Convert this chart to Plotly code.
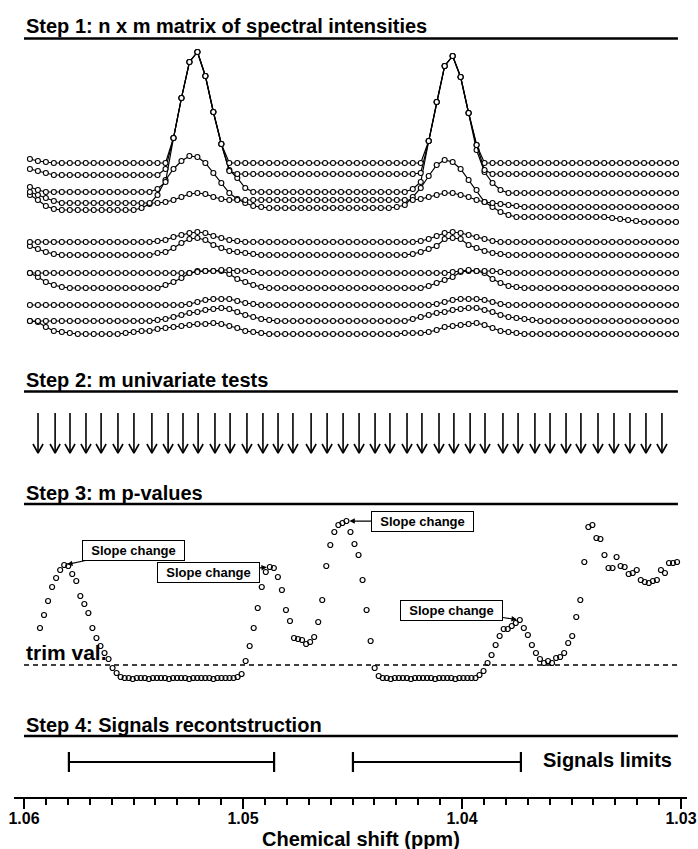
import numpy as np
import plotly.graph_objects as go

# ---------------- DATA ----------------
# Step 1: spectra (chemical-shift grid and intensities relative to each spectrum's baseline)
spec_ppm = np.linspace(1.05973, 1.03023, 82)

spec_u1 = [4,2,1,0,0,0,0,0,0,0,
           0,0,0,0,0,0,0,0,25,65,
           101,111,87,51,19,0,0,0,0,0,
           0,0,0,0,0,0,0,0,0,0,
           0,0,0,0,0,0,0,0,0,0,
           22,61,97,107,86,50,18,0,0,0,
           0,0,0,0,0,0,0,0,0,0,
           0,0,0,0,0,0,0,0,0,0,
           0,0]
spec_u2 = [6,4,2,0,0,0,0,0,0,0,
           0,0,0,0,0,0,0,6,37,77,
           113,123,99,63,31,4,1,1,1,1,
           1,1,1,1,1,1,1,1,1,1,
           1,1,1,1,1,1,1,1,1,2,
           34,73,109,119,98,62,30,5,1,1,
           1,1,1,1,1,1,1,1,1,1,
           1,1,1,1,1,1,1,1,1,1,
           1,1]
spec_u3 = [5,2,0,0,0,0,0,0,0,0,
           0,0,0,0,0,0,3,10,54,94,
           130,140,116,80,48,22,14,4,0,0,
           0,0,0,0,0,0,0,0,0,0,
           0,0,0,0,0,0,0,0,3,10,
           51,90,126,136,115,79,42,20,9,2,
           -1,-1,-1,-1,-1,-1,-1,-1,-1,-1,
           -1,-1,-1,-1,-1,-1,-1,-1,-1,-1,
           -1,-1]
spec_u4 = [11,8,5,2,0,0,0,0,0,0,
           0,0,0,0,0,0,0,1,3,6,
           9,10,9,6,4,3,3,3,3,3,
           3,3,3,3,3,3,3,3,3,3,
           3,3,3,3,3,3,3,3,3,4,
           6,8,10,10,8,6,3,1,0,-1,
           -2,-3,-4,-4,-4,-4,-4,-4,-4,-4,
           -4,-4,-4,-4,-4,-4,-4,-4,-4,-4,
           -4,-4]
spec_u5 = [15,10,4,1,0,0,0,0,0,0,
           0,0,0,0,2,6,15,30,41,49,
           54,53,47,37,27,17,11,7,4,3,
           2,2,2,2,2,2,2,2,2,2,
           2,2,2,2,2,2,3,5,13,22,
           34,45,50,48,41,30,20,8,3,-2,
           -5,-7,-7,-7,-7,-7,-7,-7,-7,-7,
           -7,-7,-7,-8,-9,-10,-11,-12,-12,-12,
           -12,-12]
spec_l1 = [0,0,0,0,0,0,0,0,0,0,
           0,0,0,0,0,0,1,2,5,7,
           9,10,9,6,4,2,1,0,0,0,
           0,0,0,0,0,0,0,0,0,0,
           0,0,0,0,0,0,0,0,0,1,
           3,6,9,10,9,7,5,3,1,0,
           0,0,0,0,0,0,0,0,0,0,
           0,0,0,0,0,0,0,0,0,0,
           0,0]
spec_l2 = [9,6,3,1,0,0,0,0,0,0,
           0,0,0,0,0,0,2,3,7,12,
           16,17,15,10,7,4,3,2,1,0,
           0,0,0,0,0,0,0,0,0,0,
           0,0,0,0,0,0,0,0,1,3,
           6,9,16,17,16,10,7,4,2,1,
           0,0,0,0,0,0,0,0,0,0,
           0,0,0,0,0,0,0,0,0,0,
           0,0]
spec_l3 = [0,0,0,0,0,0,0,0,0,0,
           0,0,0,0,0,0,0,0,0,0,
           0,1,2,2,3,3,2,2,1,0,
           0,0,0,0,0,0,0,0,0,0,
           0,0,0,0,0,0,0,0,0,0,
           0,0,0,1,2,3,2,2,2,1,
           0,0,0,0,0,0,0,0,0,0,
           0,0,0,0,0,0,0,0,0,0,
           0,0]
spec_l4 = [15,11,6,3,1,0,0,0,0,0,
           0,0,0,0,0,0,0,3,6,10,
           15,17,17,17,17,14,9,6,3,1,
           0,0,0,0,0,0,0,0,0,0,
           0,0,0,0,0,0,0,0,0,0,
           2,5,8,11,16,17,17,15,9,5,
           2,1,0,0,0,0,0,0,0,0,
           0,0,0,0,0,0,0,0,0,0,
           0,0]
spec_l5 = [0,0,0,0,0,0,0,0,0,0,
           0,0,0,0,0,0,0,0,0,0,
           1,3,5,6,6,6,4,2,1,0,
           0,0,0,0,0,0,0,0,0,0,
           0,0,0,0,0,0,0,0,0,0,
           0,1,3,5,6,6,6,5,3,1,
           0,0,0,0,0,0,0,0,0,0,
           0,0,0,0,0,0,0,0,0,0,
           0,0]
spec_l6 = [0,0,0,0,0,0,0,0,0,0,
           0,0,0,0,0,0,1,2,4,6,
           8,9,11,12,13,12,9,6,4,2,
           1,0,0,0,0,0,0,0,0,0,
           0,0,0,0,0,0,0,0,2,4,
           6,8,9,11,12,13,13,11,9,6,
           4,3,2,1,0,0,0,0,0,0,
           0,0,0,0,0,0,0,0,0,0,
           0,0]
spec_l7 = [13,12,7,3,2,1,0,0,0,0,
           0,0,1,2,3,3,5,6,7,8,
           9,10,10,11,10,8,6,3,2,1,
           0,0,0,0,0,0,0,0,0,0,
           0,0,0,0,0,0,0,1,1,1,
           2,4,7,8,9,10,11,9,6,3,
           2,1,0,0,0,0,0,0,0,0,
           0,0,0,0,0,0,0,0,0,0,
           0,0]

# Step 2: positions of the univariate tests (ppm)
test_ppm = [1.05936, 1.05858, 1.05790, 1.05717, 1.05648, 1.05571, 1.05498, 1.05416,
            1.05342, 1.05274, 1.05205, 1.05128, 1.05059, 1.04982, 1.04909, 1.04840,
            1.04772, 1.04689, 1.04616, 1.04543, 1.04470, 1.04397, 1.04329, 1.04251,
            1.04183, 1.04105, 1.04037, 1.03963, 1.03895, 1.03813, 1.03744, 1.03667,
            1.03598, 1.03525, 1.03457, 1.03379, 1.03306, 1.03233, 1.03160, 1.03087]

# Step 3: p-value scores on a chemical-shift grid
pval_ppm = np.linspace(1.05927, 1.03018, 159)
pval_score = [62,75,89,103,112,120,125,124,116,109,94,86,77,62,52,44,37,31,22,17,13,
              12,12,11,12,12,12,11,12,12,12,12,11,12,12,12,12,11,12,12,12,12,12,11,12,12,12,12,12,
              13,16,29,44,62,82,103,118,123,122,113,100,80,69,52,51,50,46,48,53,68,90,124,145,158,165,167,
              169,158,146,135,110,80,49,22,14,
              12,12,11,12,12,12,12,11,12,12,12,12,12,11,12,12,12,12,11,12,12,12,12,12,
              15,19,27,35,45,54,61,61,64,67,70,62,55,45,37,31,27,29,27,32,
              33,37,47,54,73,90,128,163,165,152,151,135,122,122,133,124,123,116,117,120,
              110,108,107,109,110,120,117,127,127,128]
trim_value = 25
slope_change_idx = [6, 57, 76, 119]

# Step 4: reconstructed signal limits (ppm)
signal_start = [1.05795, 1.04498]
signal_end = [1.04858, 1.03731]

x_tick_vals = [1.06, 1.05, 1.04, 1.03]
x_tick_text = ["1.06", "1.05", "1.04", "1.03"]

step_titles = ["Step 1: n x m matrix of spectral intensities",
               "Step 2: m univariate tests",
               "Step 3: m p-values",
               "Step 4: Signals recontstruction"]

# ---------------- LAYOUT / STYLE ----------------
FONT = "Liberation Sans, Arial, Helvetica, sans-serif"
W, H = 698, 849
ML, MR, MT, MB = 14, 11, 0, 51
PLOT_H = H - MT - MB


def pf(p):
    """window pixel row -> paper fraction"""
    return (PLOT_H - p) / PLOT_H


STACK_OFFSETS = [182, 170, 153, 142, 135, 103, 90, 72, 57, 40, 24, 11]
HEADER_Y = [26, 379.5, 492.5, 724.5]
RULE_Y = [38.5, 391.5, 504, 736]
RULE_X = (1.06, 1.03014)
ARROW_TOP, ARROW_TIP, HEAD_BASE, HEAD_HW = 47, 7, 16, 0.00023
SIGNAL_Y = 18

spectra = [spec_u1, spec_u2, spec_u3, spec_u4, spec_u5,
           spec_l1, spec_l2, spec_l3, spec_l4, spec_l5, spec_l6, spec_l7]

fig = go.Figure()

for vals, off in reversed(list(zip(spectra, STACK_OFFSETS))):
    fig.add_trace(go.Scatter(
        x=spec_ppm, y=np.array(vals) + off, mode="lines+markers", yaxis="y",
        line=dict(color="black", width=1.2),
        marker=dict(symbol="circle", size=5, color="white",
                    line=dict(color="black", width=1.1)),
        showlegend=False, hoverinfo="skip"))

ax_x, ax_y = [], []
for t in test_ppm:
    ax_x += [t, t, None, t + HEAD_HW, t, t - HEAD_HW, None]
    ax_y += [ARROW_TOP, ARROW_TIP, None, HEAD_BASE, ARROW_TIP, HEAD_BASE, None]
fig.add_trace(go.Scatter(x=ax_x, y=ax_y, mode="lines", yaxis="y2",
                         line=dict(color="black", width=1.6),
                         showlegend=False, hoverinfo="skip"))

fig.add_trace(go.Scatter(
    x=pval_ppm, y=pval_score, mode="markers", yaxis="y3",
    marker=dict(symbol="circle-open", size=5, color="black", line=dict(width=1.2)),
    showlegend=False, hoverinfo="skip"))

centers = [(s + e) / 2 for s, e in zip(signal_start, signal_end)]
halfw = [abs(s - e) / 2 for s, e in zip(signal_start, signal_end)]
fig.add_trace(go.Scatter(
    x=centers, y=[SIGNAL_Y] * len(centers), mode="markers", yaxis="y4",
    marker=dict(size=2, color="rgba(0,0,0,0)"),
    error_x=dict(type="data", symmetric=True, array=halfw, color="black",
                 thickness=2.2, width=10),
    showlegend=False, hoverinfo="skip"))

shapes = []
for ry in RULE_Y:
    shapes.append(dict(type="line", xref="x", yref="paper", x0=RULE_X[0], x1=RULE_X[1],
                       y0=pf(ry), y1=pf(ry), line=dict(color="black", width=2.5)))
shapes.append(dict(type="line", xref="x", yref="y3", x0=RULE_X[0], x1=RULE_X[1],
                   y0=trim_value, y1=trim_value,
                   line=dict(color="black", width=1.6, dash="5px,4px")))

annotations = []
for txt, hy in zip(step_titles, HEADER_Y):
    annotations.append(dict(text=f"<b>{txt}</b>", xref="x", x=1.06, xanchor="left",
                            yref="paper", y=pf(hy), yanchor="middle", showarrow=False,
                            font=dict(family=FONT, size=20, color="black")))
annotations.append(dict(text="<b>trim val.</b>", xref="x", x=1.06, xanchor="left",
                        yref="paper", y=pf(652), yanchor="middle", showarrow=False,
                        font=dict(family=FONT, size=21, color="black")))
annotations.append(dict(text="<b>Signals limits</b>", xref="x", x=1.03639, xanchor="left",
                        yref="paper", y=pf(760), yanchor="middle", showarrow=False,
                        font=dict(family=FONT, size=20, color="black")))
annotations.append(dict(text="<b>Chemical shift (ppm)</b>", xref="paper",
                        x=(361 - ML) / (W - ML - MR), xanchor="center",
                        yref="paper", y=pf(839), yanchor="middle", showarrow=False,
                        font=dict(family=FONT, size=20, color="black")))

box_offsets = [(69, -14.5), (-61, 5.5), (76, 0.5), (-68, -10)]
for idx, (oxp, oyp) in zip(slope_change_idx, box_offsets):
    annotations.append(dict(
        text="<b>Slope change</b>", xref="x", yref="y3",
        x=pval_ppm[idx], y=pval_score[idx], ax=oxp, ay=oyp,
        showarrow=True, arrowhead=2, arrowsize=0.9, arrowwidth=1.2, arrowcolor="black",
        standoff=3, bgcolor="white", bordercolor="black", borderwidth=1, borderpad=2,
        width=97, height=15, font=dict(family=FONT, size=13, color="black")))

yax_common = dict(visible=False, showgrid=False, zeroline=False, fixedrange=True, anchor="x")
fig.update_layout(
    width=W, height=H, margin=dict(l=ML, r=MR, t=MT, b=MB),
    paper_bgcolor="white", plot_bgcolor="white",
    font=dict(family=FONT, color="black"),
    xaxis=dict(range=[1.060457, 1.029726], anchor="free", position=0,
               showline=True, linecolor="black", linewidth=2,
               showgrid=False, zeroline=False,
               tickmode="array", tickvals=x_tick_vals,
               ticktext=[f"<b>{t}</b>" for t in x_tick_text],
               ticks="outside", ticklen=10, tickwidth=2, tickcolor="black",
               ticklabelstandoff=-4,
               tickfont=dict(family=FONT, size=16, color="black"),
               minor=dict(tickmode="linear", tick0=1.03, dtick=0.001, ticks="outside",
                          ticklen=6, tickwidth=1.6, tickcolor="black", showgrid=False)),
    yaxis=dict(domain=[pf(345), pf(40)], range=[0, 305], **yax_common),
    yaxis2=dict(domain=[pf(460), pf(405)], range=[0, 55], **yax_common),
    yaxis3=dict(domain=[pf(690), pf(505)], range=[0, 185], **yax_common),
    yaxis4=dict(domain=[pf(780), pf(740)], range=[0, 40], **yax_common),
    shapes=shapes, annotations=annotations,
)

fig.write_html("out.html", config={"displayModeBar": False},
               post_script="document.body.style.margin='0';document.body.style.overflow='hidden';")
